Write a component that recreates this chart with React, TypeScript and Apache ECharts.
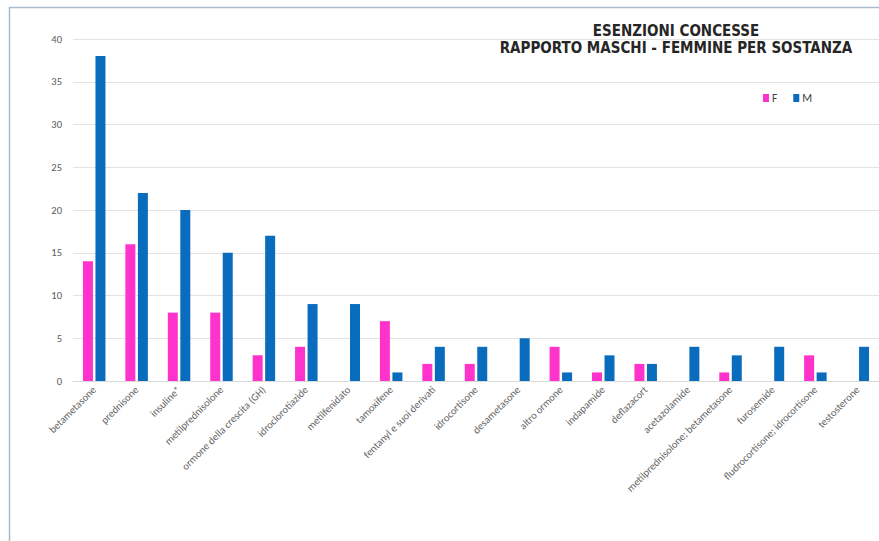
import React, { useEffect, useRef } from "react";
import * as echarts from "echarts";

const categories = [
  "betametasone",
  "prednisone",
  "insuline*",
  "metilprednisolone",
  "ormone della crescita (GH)",
  "idroclorotiazide",
  "metilfenidato",
  "tamoxifene",
  "fentanyl e suoi derivati",
  "idrocortisone",
  "desametasone",
  "altro ormone",
  "indapamide",
  "deflazacort",
  "acetazolamide",
  "metilprednisolone; betametasone",
  "furosemide",
  "fludrocortisone; idrocortisone",
  "testosterone",
];
const femmine = [14, 16, 8, 8, 3, 4, 0, 7, 2, 2, 0, 4, 1, 2, 0, 1, 0, 3, 0];
const maschi = [38, 22, 20, 15, 17, 9, 9, 1, 4, 4, 5, 1, 3, 2, 4, 3, 4, 1, 4];
const titleLines = ["ESENZIONI CONCESSE", "RAPPORTO MASCHI - FEMMINE PER SOSTANZA"];

export default function App() {
  const ref = useRef<HTMLDivElement>(null);
  useEffect(() => {
    if (!ref.current) return;
    const chart = echarts.init(ref.current, undefined, { renderer: "svg" });
    const titleFont = "'Liberation Sans Narrow', 'DejaVu Sans Condensed', Arial, sans-serif";
    chart.setOption({
      animation: false,
      backgroundColor: "#ffffff",
      textStyle: { fontFamily: "Calibri, 'Open Sans', 'Noto Sans', sans-serif" },
      grid: { left: 73, right: 0, top: 39, bottom: 160, containLabel: false },
      legend: {
        data: ["F", "M"],
        left: 758,
        top: 87,
        icon: "rect",
        itemWidth: 6,
        itemHeight: 8,
        itemGap: 16,
        textStyle: { fontSize: 11.5, color: "#404040", padding: [0, 0, 0, -2] },
      },
      xAxis: {
        type: "category",
        data: categories,
        axisLine: { lineStyle: { color: "#d9d9d9" } },
        axisTick: { show: false },
        axisLabel: { interval: 0, rotate: 45, fontSize: 10.5, color: "#666666", margin: 7 },
      },
      yAxis: {
        type: "value",
        min: 0,
        max: 40,
        interval: 5,
        axisLine: { show: false },
        axisTick: { show: false },
        splitLine: { lineStyle: { color: "#e3e3e3" } },
        axisLabel: { fontSize: 10.5, color: "#595959", margin: 11 },
      },
      series: [
        {
          name: "F",
          type: "bar",
          data: femmine,
          barWidth: 10,
          barGap: "25%",
          itemStyle: { color: "#FF33CC" },
        },
        {
          name: "M",
          type: "bar",
          data: maschi,
          barWidth: 10,
          barGap: "25%",
          itemStyle: { color: "#0A6CBD" },
        },
      ],
      graphic: [
        {
          type: "rect",
          shape: { x: 9.5, y: 7.5, width: 1000, height: 700 },
          style: { fill: "none", stroke: "#a9bbcf", lineWidth: 1.5 },
          silent: true,
        },
        {
          type: "text",
          x: 676,
          y: 31,
          style: {
            text: titleLines[0],
            fontSize: 15,
            fontWeight: "bold",
            fontFamily: titleFont,
            fill: "#262626",
            align: "center",
            verticalAlign: "middle",
          },
        },
        {
          type: "text",
          x: 676,
          y: 48,
          style: {
            text: titleLines[1],
            fontSize: 15,
            fontWeight: "bold",
            fontFamily: titleFont,
            fill: "#262626",
            align: "center",
            verticalAlign: "middle",
          },
        },
      ],
    });
    return () => chart.dispose();
  }, []);
  return (
    <div
      ref={ref}
      style={{ position: "absolute", left: 0, top: 0, width: 879, height: 541 }}
    />
  );
}
